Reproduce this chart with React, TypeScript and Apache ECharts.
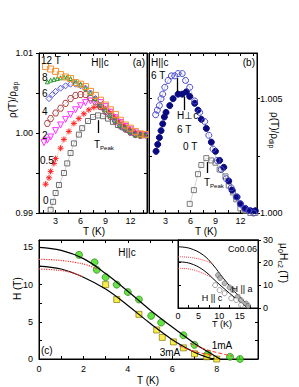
import React, { useEffect, useRef } from "react";
import * as echarts from "echarts";

type P = [number, number];

// ---------- Panel (a): rho(T)/rho_dip, H || c ----------
const a12T: P[] = [[1.8,1.0083],[2.4,1.0080],[3.0,1.0077],[3.6,1.0073],[4.2,1.0070],[4.8,1.0068],[5.4,1.0063],[6.0,1.0061],[6.6,1.0058],[7.2,1.0052],[7.8,1.0047],[8.4,1.0041],[9.0,1.0035],[9.6,1.0029],[10.2,1.0023],[10.8,1.0016],[11.4,1.0010],[12.0,1.0006],[12.6,1.0002],[13.2,0.9999],[13.8,0.9998]];
const a8T: P[] = [[2.0,1.0064],[2.4,1.0066],[2.8,1.0067],[3.2,1.0068],[3.6,1.0069],[4.0,1.0070],[4.4,1.0070],[4.8,1.0068],[5.4,1.0065],[6.0,1.0061],[6.6,1.0056],[7.2,1.0050],[7.8,1.0043],[8.4,1.0035],[9.0,1.0029],[9.6,1.0022],[10.2,1.0016],[10.8,1.0010],[11.4,1.0006],[12.0,1.0002],[12.6,0.9998],[13.2,0.9997],[13.8,0.9997]];
const a6T: P[] = [[2.2,1.0043],[2.6,1.0048],[3.0,1.0052],[3.6,1.0056],[4.2,1.0059],[4.8,1.0061],[5.4,1.0061],[6.0,1.0059],[6.6,1.0056],[7.2,1.0050],[7.8,1.0043],[8.4,1.0035],[9.0,1.0028],[9.6,1.0022],[10.2,1.0015],[10.8,1.0009],[11.4,1.0005],[12.0,1.0001],[12.6,0.9998],[13.2,0.9997],[13.8,0.9997]];
const a4T: P[] = [[2.0,1.0012],[2.4,1.0018],[3.0,1.0025],[3.6,1.0031],[4.2,1.0037],[4.8,1.0043],[5.4,1.0047],[6.0,1.0048],[6.6,1.0048],[7.2,1.0044],[7.8,1.0039],[8.4,1.0033],[9.0,1.0027],[9.6,1.0021],[10.2,1.0015],[10.8,1.0009],[11.4,1.0005],[12.0,1.0001],[12.6,0.9998],[13.2,0.9997]];
const a2T: P[] = [[1.6,0.9988],[2.0,0.9991],[2.4,0.9995],[3.0,1.0003],[3.6,1.0010],[4.2,1.0017],[4.8,1.0023],[5.4,1.0029],[6.0,1.0034],[6.6,1.0038],[7.2,1.0040],[7.8,1.0040],[8.4,1.0038],[9.0,1.0033],[9.6,1.0026],[10.2,1.0019],[10.8,1.0013],[11.4,1.0008],[12.0,1.0004],[12.6,1.0000],[13.2,0.9998],[13.8,0.9998]];
const a05T: P[] = [[1.8,0.9936],[2.2,0.9944],[2.4,0.9952],[2.8,0.9962],[3.0,0.9968],[3.6,0.9981],[4.0,0.9992],[4.6,1.0002],[5.2,1.0012],[5.8,1.0018],[6.4,1.0024],[7.0,1.0029],[7.6,1.0032],[8.2,1.0033],[8.8,1.0031],[9.4,1.0027],[10.0,1.0021],[10.6,1.0015],[11.2,1.0010],[11.8,1.0005],[12.4,1.0001],[13.0,0.9998],[13.6,0.9997]];
const a0T: P[] = [[2.4,0.9904],[2.7,0.9914],[3.0,0.9925],[3.4,0.9935],[4.0,0.9950],[4.4,0.9962],[4.8,0.9975],[5.2,0.9987],[5.8,0.9998],[6.2,1.0006],[6.9,1.0015],[7.5,1.0020],[8.1,1.0022],[8.7,1.0021],[9.3,1.0018],[9.9,1.0014],[10.5,1.0010],[11.1,1.0007],[11.7,1.0004],[12.3,1.0001],[12.9,0.9999],[13.5,0.9998]];

// ---------- Panel (b) ----------
const bPara6T: P[] = [[1.8,1.0043],[2.0,1.0045],[2.25,1.0047],[2.45,1.0050],[2.65,1.0052],[2.9,1.0055],[3.3,1.0058],[3.7,1.0060],[4.1,1.0060],[4.5,1.0061],[5.0,1.0061],[5.4,1.0058],[5.9,1.0055],[6.5,1.0049],[7.1,1.0044],[7.7,1.0040],[8.2,1.0034],[8.7,1.0028],[9.2,1.0023],[9.7,1.0019],[10.3,1.0015],[10.9,1.0011],[11.5,1.0007],[12.0,1.0004],[12.5,1.0002],[13.0,1.0001],[13.6,1.0000]];
const bPerp6T: P[] = [[1.85,1.0027],[2.05,1.0030],[2.25,1.0033],[2.45,1.0036],[2.65,1.0039],[2.85,1.0042],[3.05,1.0044],[3.5,1.0047],[3.9,1.0050],[4.5,1.0052],[5.0,1.0052],[5.5,1.0053],[5.9,1.0051],[6.5,1.0048],[6.9,1.0045],[7.3,1.0041],[7.9,1.0037],[8.5,1.0031],[9.0,1.0027],[9.5,1.0023],[10.0,1.0020],[10.6,1.0014],[11.0,1.0010],[11.6,1.0007],[12.0,1.0004],[12.6,1.0002],[13.2,1.0001],[13.8,1.0001]];
const b0T: P[] = [[5.9,1.0004],[6.4,1.0010],[6.9,1.0017],[7.3,1.0021],[7.9,1.0024],[8.5,1.0023],[9.0,1.0022],[9.5,1.0019],[10.2,1.0016],[10.6,1.0012],[11.1,1.0009],[11.5,1.0006],[12.0,1.0002],[12.6,1.0001],[13.2,1.0000],[13.8,1.0000]];

// ---------- Panel (c): H(T) ----------
const cGreen1mA: P[] = [[1.8,14],[2.5,13],[2.6,12],[3,11],[3.5,10],[4,9],[4.5,8],[5.05,5.8],[5.5,4.9],[6.5,3.2],[7.0,1.9],[7.6,0.7],[8.6,0.3],[9.05,0]];
const cYellow3mA: P[] = [[3,10],[3.5,8],[4.5,6],[5.3,3.9],[5.55,2.9],[6.05,2.3],[6.5,1.5],[7.0,0.7],[7.55,0.3],[8.0,0]];
const cFitUpper: P[] = [[0,15.0],[1,14.6],[2,13.5],[3,11.5],[4,9.1],[5,6.6],[6,4.3],[7,2.1],[7.7,0.8],[8.15,0]];
const cFitLower: P[] = [[0,12.5],[1,12.1],[2,11.0],[3,9.4],[4,7.2],[5,4.8],[6,2.6],[7,0.9],[7.5,0.3],[7.9,0]];
const cDotUpper: P[] = [[0,13.4],[0.8,13.3],[1.6,13.0],[2.2,12.6],[2.6,12.1]];
const cDotLower: P[] = [[0,12.1],[0.6,12.0],[1.2,11.8],[1.7,11.4],[2.0,11.0]];
const cTailUpper: P[] = [[6.8,2.1],[7.5,1.3],[8.1,0.8],[8.7,0.4]];
const cTailLower: P[] = [[6.3,1.8],[6.8,1.2],[7.3,0.8],[7.8,0.5]];

// ---------- Inset: Co0.06 ----------
const iFitUpper: P[] = [[0,27],[2.9,26.3],[6.1,23.4],[8.5,19],[11,13.1],[14.1,6.5],[17.4,0.6],[17.7,0]];
const iFitLower: P[] = [[0,20.4],[2.9,19.7],[6.1,16.8],[9.3,11.6],[12.5,6.5],[16.5,0.6],[16.8,0]];
const iDotUpper: P[] = [[0,22.6],[3,22.3],[6,21.2],[8.2,19.6]];
const iDotLower: P[] = [[0,17.5],[3,17.1],[6.1,15.3],[8,13.6]];
const iHa: P[] = [[9.7,14.5],[10.2,13.2],[11.3,10.9],[12.5,9.1],[13.3,7.9],[14.5,5],[15.3,3.5],[16.5,2],[17,1]];
const iHc: P[] = [[9,10.1],[10.1,7.9],[11.3,6.5],[12.9,4.3],[14.1,3.5],[15.3,1.3]];

// ---------- ticks / labels ----------
const abTicks = [1.5, 3, 4.5, 6, 7.5, 9, 10.5, 12, 13.5];
const abLabels = [3, 6, 9, 12];
const aYTicks = [0.99, 0.995, 1.0, 1.005, 1.01];
const aYLabels = [0.99, 1.0, 1.01];
const bYTicks = [1.0, 1.0025, 1.005];
const bYLabels = [1.0, 1.005];
const cXTicks = [0, 1, 2, 3, 4, 5, 6, 7, 8, 9];
const cXLabels = [0, 2, 4, 6, 8];
const cYTicks = [0, 2.5, 5, 7.5, 10, 12.5, 15];
const cYLabels = [0, 5, 10, 15];
const iXTicks = [2.5, 5, 7.5, 10, 12.5, 15, 17.5];
const iXLabels = [0, 5, 10, 15];
const iYLabels = [0, 10, 20, 30];

// arrows (annotation) : [x, yFrom, yTo]
const arrowA: [number, number, number] = [8.16, 1.0, 1.0016];
const arrowB: [number, number, number][] = [[4.4, 1.0053, 1.0059], [5.3, 1.0045, 1.0051], [8.07, 1.00175, 1.00223]];

const FONT = "'Liberation Sans', Arial, sans-serif";

function axis(o: any): any {
  const { ticks, labels, inside = true, fmt, margin = 4, tickLen = 3, ...rest } = o;
  return {
    type: "value",
    axisLine: { show: true, onZero: false, lineStyle: { color: "#000", width: 1 } },
    splitLine: { show: false },
    axisTick: { show: !!ticks, inside, length: tickLen, customValues: ticks, lineStyle: { color: "#000", width: 1 } },
    axisLabel: labels
      ? { show: true, customValues: labels, margin, fontFamily: FONT, fontSize: 9, color: "#000", formatter: fmt || ((v: number) => String(v)) }
      : { show: false },
    ...rest,
  };
}

function pts(name: string, data: P[], xi: number, yi: number, symbol: string, size: number, stroke: string, fill: string, line: string | null, extra: any = {}) {
  return {
    type: "line",
    name,
    data,
    xAxisIndex: xi,
    yAxisIndex: yi,
    symbol,
    symbolSize: size,
    showSymbol: true,
    showAllSymbol: true,
    silent: true,
    lineStyle: line ? { color: line, width: 0.6 } : { width: 0, opacity: 0 },
    itemStyle: { color: fill, borderColor: stroke, borderWidth: 1 },
    ...extra,
  };
}

function curve(name: string, data: P[], xi: number, yi: number, color: string, type: string, width: number) {
  return {
    type: "line",
    name,
    data,
    xAxisIndex: xi,
    yAxisIndex: yi,
    smooth: 0.4,
    symbol: "none",
    silent: true,
    lineStyle: { color, type, width },
  };
}

function arrowMark(list: [number, number, number][]) {
  return {
    silent: true,
    symbol: ["none", "triangle"],
    symbolSize: [0, 6],
    label: { show: false },
    lineStyle: { color: "#000", width: 1.3, type: "solid" },
    data: list.map(([x, y0, y1]) => [{ coord: [x, y0] }, { coord: [x, y1] }]),
  };
}

function txt(text: string, x: number, y: number, size = 10, align = "left", extra: any = {}) {
  return {
    type: "text",
    x,
    y,
    silent: true,
    z: 100,
    style: { text, fontSize: size, fontFamily: FONT, fill: "#000", align, verticalAlign: "middle", ...extra },
  };
}

// rotated text piece (rot = +90deg reads bottom-to-top, -90deg top-to-bottom)
function rtxt(text: string, x: number, y: number, size: number, rot: number) {
  return {
    type: "text",
    x,
    y,
    rotation: rot,
    silent: true,
    z: 100,
    style: { text, fontSize: size, fontFamily: FONT, fill: "#000", align: "left", verticalAlign: "middle" },
  };
}

const subRich = (main: number, sub: number) => ({
  s: { fontSize: sub, fontFamily: FONT, fill: "#000", verticalAlign: "bottom", lineHeight: main + 4 },
  n: { fontSize: main, fontFamily: FONT, fill: "#000", lineHeight: main + 4 },
});

const SQ = "rect";
const DOWN_TRI = "path://M0,0L10,0L5,9Z";
const HEX = "path://M2.5,0L7.5,0L10,4.33L7.5,8.66L2.5,8.66L0,4.33Z";
const STAR = "path://M5,0L5,10M0,5L10,5M1.5,1.5L8.5,8.5M8.5,1.5L1.5,8.5";
const UP = Math.PI / 2;
const DOWN = -Math.PI / 2;

export default function App() {
  const ref = useRef<HTMLDivElement>(null);
  useEffect(() => {
    document.body.style.margin = "0";
    if (!ref.current) return;
    const chart = echarts.init(ref.current, undefined, { renderer: "svg" });
    const option: any = {
      animation: false,
      backgroundColor: "#fff",
      grid: [
        { left: 39, top: 53, width: 108, height: 160, show: true, borderColor: "#000", borderWidth: 1 },
        { left: 149, top: 53, width: 108, height: 160, show: true, borderColor: "#000", borderWidth: 1 },
        { left: 39, top: 240, width: 219, height: 119, show: true, borderColor: "#000", borderWidth: 1 },
        { left: 178, top: 240, width: 80, height: 68, show: true, borderColor: "#000", borderWidth: 1, backgroundColor: "#fff" },
      ],
      xAxis: [
        axis({ gridIndex: 0, min: 1, max: 14, position: "bottom", ticks: abTicks, labels: abLabels, margin: 3 }),
        axis({ gridIndex: 0, min: 1, max: 14, position: "top", ticks: abTicks }),
        axis({ gridIndex: 1, min: 1, max: 14, position: "bottom", ticks: abTicks, labels: abLabels, margin: 3 }),
        axis({ gridIndex: 1, min: 1, max: 14, position: "top", ticks: abTicks }),
        axis({ gridIndex: 2, min: 0, max: 9.86, position: "bottom", ticks: cXTicks, labels: cXLabels, margin: 5 }),
        axis({ gridIndex: 2, min: 0, max: 9.86, position: "top", ticks: [1, 2, 3, 4, 5, 6] }),
        axis({ gridIndex: 3, min: 0, max: 19.4, position: "bottom", ticks: iXTicks, labels: iXLabels, margin: 3 }),
      ],
      yAxis: [
        axis({ gridIndex: 0, min: 0.99, max: 1.01, position: "left", ticks: aYTicks, labels: aYLabels, inside: false, margin: 6, fmt: (v: number) => v.toFixed(2) }),
        axis({ gridIndex: 0, min: 0.99, max: 1.01, position: "right", ticks: aYTicks }),
        axis({ gridIndex: 1, min: 1.0, max: 1.007, position: "left", ticks: [1.0025, 1.005] }),
        axis({ gridIndex: 1, min: 1.0, max: 1.007, position: "right", ticks: bYTicks, labels: bYLabels, inside: false, margin: 3, fmt: (v: number) => v.toFixed(3) }),
        axis({ gridIndex: 2, min: 0, max: 16, position: "left", ticks: cYTicks, labels: cYLabels, margin: 6 }),
        axis({ gridIndex: 2, min: 0, max: 16, position: "right", ticks: [2.5, 5] }),
        axis({ gridIndex: 3, min: 0, max: 30, position: "right", ticks: iYLabels, labels: iYLabels, inside: false, margin: 5 }),
        axis({ gridIndex: 3, min: 0, max: 30, position: "left", ticks: [10, 20] }),
      ],
      series: [
        // panel (a)
        pts("0 T", a0T, 0, 0, SQ, 5, "#6e6e6e", "transparent", "#b0b0b0", { markLine: arrowMark([arrowA]) }),
        pts("0.5 T", a05T, 0, 0, STAR, 6, "#ff2020", "none", "#ffb0b0"),
        pts("2 T", a2T, 0, 0, DOWN_TRI, 6, "#ff33ff", "transparent", "#ffb0ff"),
        pts("4 T", a4T, 0, 0, HEX, 6, "#b04848", "transparent", "#d8a8a8"),
        pts("6 T", a6T, 0, 0, "diamond", 6, "#5050d8", "transparent", "#b0b0f0"),
        pts("8 T", a8T, 0, 0, "triangle", 4, "#2e9a2e", "transparent", "#a0d8a0"),
        pts("12 T", a12T, 0, 0, SQ, 6, "#f39232", "transparent", "#f8c890"),
        // panel (b)
        pts("0 T b", b0T, 2, 3, SQ, 5, "#7a7a7a", "transparent", "#b8b8b8"),
        pts("H perp c 6 T", bPerp6T, 2, 3, "circle", 6, "#0a0a80", "#0a0a80", null),
        pts("H || c 6 T", bPara6T, 2, 3, "circle", 6, "#4848d0", "transparent", "#a8a8e8", { markLine: arrowMark(arrowB) }),
        // panel (c)
        curve("fit upper", cFitUpper, 4, 4, "#000", "solid", 1.2),
        curve("fit lower", cFitLower, 4, 4, "#000", "solid", 1.2),
        curve("dot upper", cDotUpper, 4, 4, "#ff3030", "dotted", 1.2),
        curve("dot lower", cDotLower, 4, 4, "#ff3030", "dotted", 1.2),
        curve("tail upper", cTailUpper, 4, 4, "#ff3030", "dashed", 1),
        curve("tail lower", cTailLower, 4, 4, "#ff3030", "dashed", 1),
        { type: "scatter", name: "1mA", data: cGreen1mA, xAxisIndex: 4, yAxisIndex: 4, symbol: "circle", symbolSize: 7, silent: true, itemStyle: { color: "#3ddc16", borderColor: "#1f7a08", borderWidth: 0.8 } },
        { type: "scatter", name: "3mA", data: cYellow3mA, xAxisIndex: 4, yAxisIndex: 4, symbol: "rect", symbolSize: 6, silent: true, itemStyle: { color: "#f6e81e", borderColor: "#7a6a00", borderWidth: 0.8 } },
        // inset
        curve("i fit upper", iFitUpper, 6, 6, "#000", "solid", 1),
        curve("i fit lower", iFitLower, 6, 6, "#000", "solid", 1),
        curve("i dot upper", iDotUpper, 6, 6, "#ff4040", "dotted", 1),
        curve("i dot lower", iDotLower, 6, 6, "#ff4040", "dotted", 1),
        { type: "scatter", name: "H || a", data: iHa, xAxisIndex: 6, yAxisIndex: 6, symbol: "circle", symbolSize: 5, silent: true, z: 4, itemStyle: { color: "#a8a8a8", borderColor: "#5a5a5a", borderWidth: 0.7 } },
        { type: "scatter", name: "H || c", data: iHc, xAxisIndex: 6, yAxisIndex: 6, symbol: "circle", symbolSize: 5, silent: true, z: 4, itemStyle: { color: "#fff", borderColor: "#5a5a5a", borderWidth: 0.7 } },
      ],
      graphic: {
        elements: [
          // left title of (a): rho(T)/rho_dip, reading upward
          rtxt("ρ(T)/ρ", 12, 118, 10, UP),
          rtxt("dip", 15, 91, 7, UP),
          // right title of (b): reading downward
          rtxt("ρ(T)/ρ", 274, 112, 10, DOWN),
          rtxt("dip", 271, 139, 7, DOWN),
          // inset title mu0 Hc2 (T), reading downward
          rtxt("μ", 283, 243, 10, DOWN),
          rtxt("0", 280, 249, 7, DOWN),
          rtxt("H", 283, 253, 10, DOWN),
          rtxt("c2", 280, 260.5, 7, DOWN),
          rtxt(" (T)", 283, 267.5, 10, DOWN),
          // (c) y title
          rtxt("H (T)", 17, 300, 10, UP),
          txt("T (K)", 94, 231, 10, "center"),
          txt("T (K)", 206, 231, 10, "center"),
          txt("T (K)", 148, 380, 10, "center"),
          txt("T (K)", 222, 324, 9, "center"),
          // panel (a) annotations
          txt("12 T", 41, 60, 10),
          txt("8", 42, 77, 10),
          txt("6", 42, 93, 10),
          txt("4", 42, 111, 10),
          txt("2", 42, 135, 10),
          txt("0.5", 40, 160, 10),
          txt("0", 43, 200, 10),
          txt("H||c", 100, 62, 10, "center"),
          txt("(a)", 145, 62, 10, "right"),
          { type: "text", x: 94, y: 144, silent: true, z: 100, style: { text: "{n|T}{s|Peak}", align: "left", verticalAlign: "middle", rich: subRich(10, 6) } },
          // panel (b) annotations
          txt("H||c", 151, 62, 10),
          txt("6 T", 151, 75, 10),
          txt("(b)", 255, 62, 10, "right"),
          txt("H⊥c", 177, 115, 10),
          txt("6 T", 177, 129, 10),
          txt("0 T", 183, 146, 10),
          { type: "text", x: 204, y: 182, silent: true, z: 100, style: { text: "{n|T}{s|Peak}", align: "left", verticalAlign: "middle", rich: subRich(10, 6) } },
          // panel (c) annotations
          txt("H||c", 127, 252, 10, "center"),
          txt("(c)", 41, 350, 10),
          txt("1mA", 222, 345, 10, "center"),
          txt("3mA", 170, 352, 10, "center"),
          txt("Co0.06", 257, 249, 9, "right"),
          txt("H || a", 242, 289, 9, "center"),
          txt("H || c", 212, 298, 9, "center"),
        ],
      },
    };
    chart.setOption(option);
    return () => chart.dispose();
  }, []);
  return <div ref={ref} style={{ width: 299, height: 387, overflow: "hidden" }} />;
}
